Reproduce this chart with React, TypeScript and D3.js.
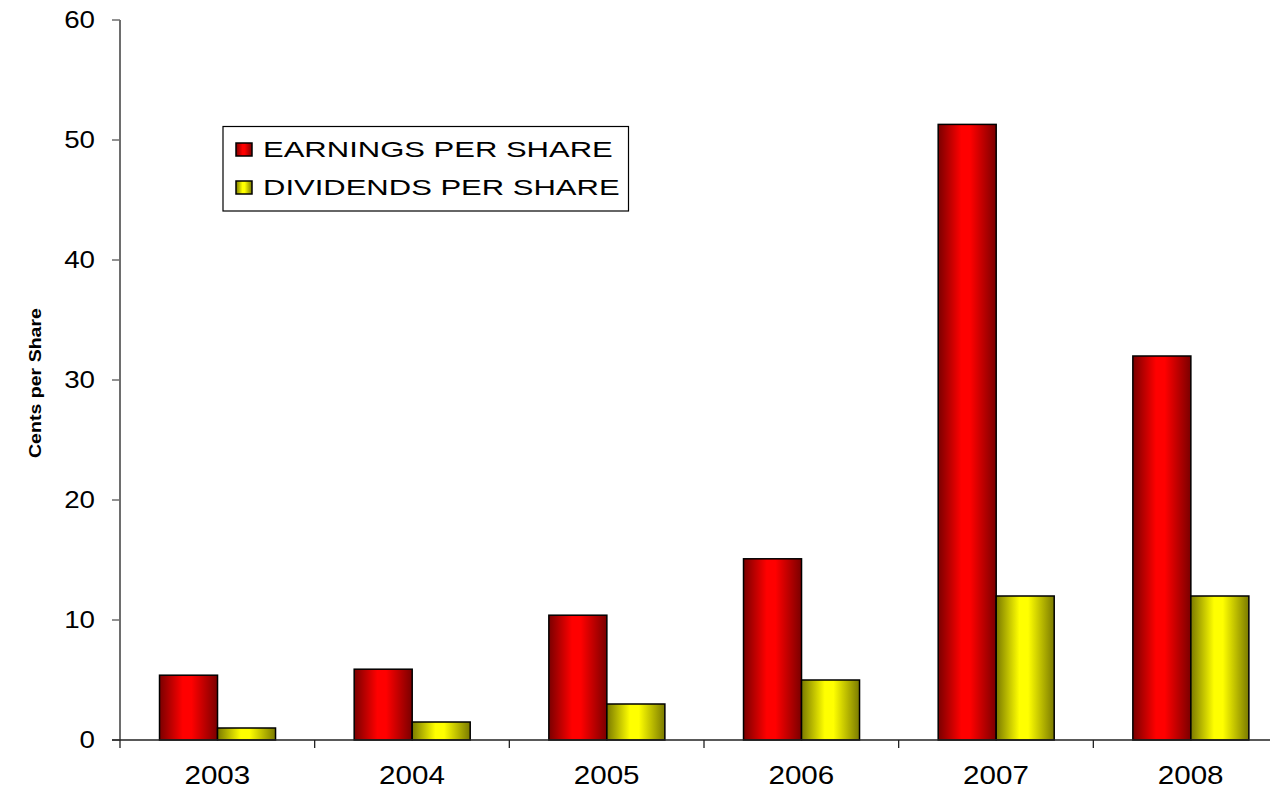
import React from "react";
import * as d3 from "d3";

const years = ["2003", "2004", "2005", "2006", "2007", "2008"];
const earnings = [5.4, 5.9, 10.4, 15.1, 51.3, 32.0];
const dividends = [1.0, 1.5, 3.0, 5.0, 12.0, 12.0];
const seriesNames = ["EARNINGS PER SHARE", "DIVIDENDS PER SHARE"];
const yTicks = [0, 10, 20, 30, 40, 50, 60];

const W = 1270;
const H = 790;
const M = { left: 120, top: 20, right: 1288, bottom: 740 };
const FONT = "'Liberation Sans', Arial, sans-serif";

export default function App() {
  const x = d3.scaleBand<string>().domain(years).range([M.left, M.right]).paddingInner(0).paddingOuter(0);
  const y = d3.scaleLinear().domain([0, 60]).range([M.bottom, M.top]);
  const bw = x.bandwidth();
  const barW = bw * 0.298;
  const offset = bw * 0.203;
  const series = [
    { name: seriesNames[0], values: earnings, grad: "gradRed" },
    { name: seriesNames[1], values: dividends, grad: "gradYellow" },
  ];
  const catTicks = [...years.map((yr) => x(yr)!), M.right];

  return (
    <svg width={W} height={H} style={{ position: "absolute", left: 0, top: 0, background: "#fff" }}>
      <defs>
        <linearGradient id="gradRed" x1="0" x2="1" y1="0" y2="0">
          <stop offset="0" stopColor="#7a0000" />
          <stop offset="0.4" stopColor="#ff0000" />
          <stop offset="0.55" stopColor="#ff0000" />
          <stop offset="1" stopColor="#7a0000" />
        </linearGradient>
        <linearGradient id="gradYellow" x1="0" x2="1" y1="0" y2="0">
          <stop offset="0" stopColor="#7a7a00" />
          <stop offset="0.4" stopColor="#ffff00" />
          <stop offset="0.55" stopColor="#ffff00" />
          <stop offset="1" stopColor="#7a7a00" />
        </linearGradient>
      </defs>

      {/* bars */}
      {series.map((s, si) =>
        years.map((yr, i) => (
          <rect
            key={s.name + yr}
            x={x(yr)! + offset + si * barW}
            y={y(s.values[i])}
            width={barW}
            height={y(0) - y(s.values[i])}
            fill={`url(#${s.grad})`}
            stroke="#000"
            strokeWidth={1.5}
          />
        ))
      )}

      {/* y axis */}
      <line x1={M.left} x2={M.left} y1={M.top} y2={M.bottom} stroke="#6e6e6e" strokeWidth={2} />
      {yTicks.map((t) => (
        <g key={t}>
          <line x1={M.left - 8} x2={M.left} y1={y(t)} y2={y(t)} stroke="#6e6e6e" strokeWidth={1.5} />
          <text
            transform={`translate(95,${y(t) + 7.5}) scale(1.18,1)`}
            textAnchor="end"
            fontFamily={FONT}
            fontSize={23.5}
            fill="#000"
          >
            {t}
          </text>
        </g>
      ))}

      {/* x axis */}
      <line x1={M.left - 8} x2={W} y1={M.bottom} y2={M.bottom} stroke="#222" strokeWidth={1.3} />
      {catTicks.map((t, i) => (
        <line key={i} x1={t} x2={t} y1={M.bottom} y2={M.bottom + 8} stroke="#222" strokeWidth={1.3} />
      ))}
      {years.map((yr) => (
        <text
          key={yr}
          transform={`translate(${x(yr)! + bw / 2},784) scale(1.16,1)`}
          textAnchor="middle"
          fontFamily={FONT}
          fontSize={25.5}
          fill="#000"
        >
          {yr}
        </text>
      ))}

      {/* y title */}
      <text
        transform={`translate(41,383) rotate(-90)`}
        textAnchor="middle"
        fontFamily={FONT}
        fontSize={17}
        fontWeight="bold"
        textLength={150}
        lengthAdjust="spacingAndGlyphs"
        fill="#000"
      >
        Cents per Share
      </text>

      {/* legend */}
      <rect x={223} y={126.5} width={405.5} height={84.5} fill="#fff" stroke="#000" strokeWidth={1.2} />
      {series.map((s, i) => (
        <g key={s.name}>
          <rect x={236} y={143 + i * 38} width={16} height={13} fill={`url(#${s.grad})`} stroke="#000" strokeWidth={1.5} />
          <text
            transform={`translate(263,${157 + i * 38}) scale(1.41,1)`}
            fontFamily={FONT}
            fontSize={22}
            fill="#000"
          >
            {s.name}
          </text>
        </g>
      ))}
    </svg>
  );
}
